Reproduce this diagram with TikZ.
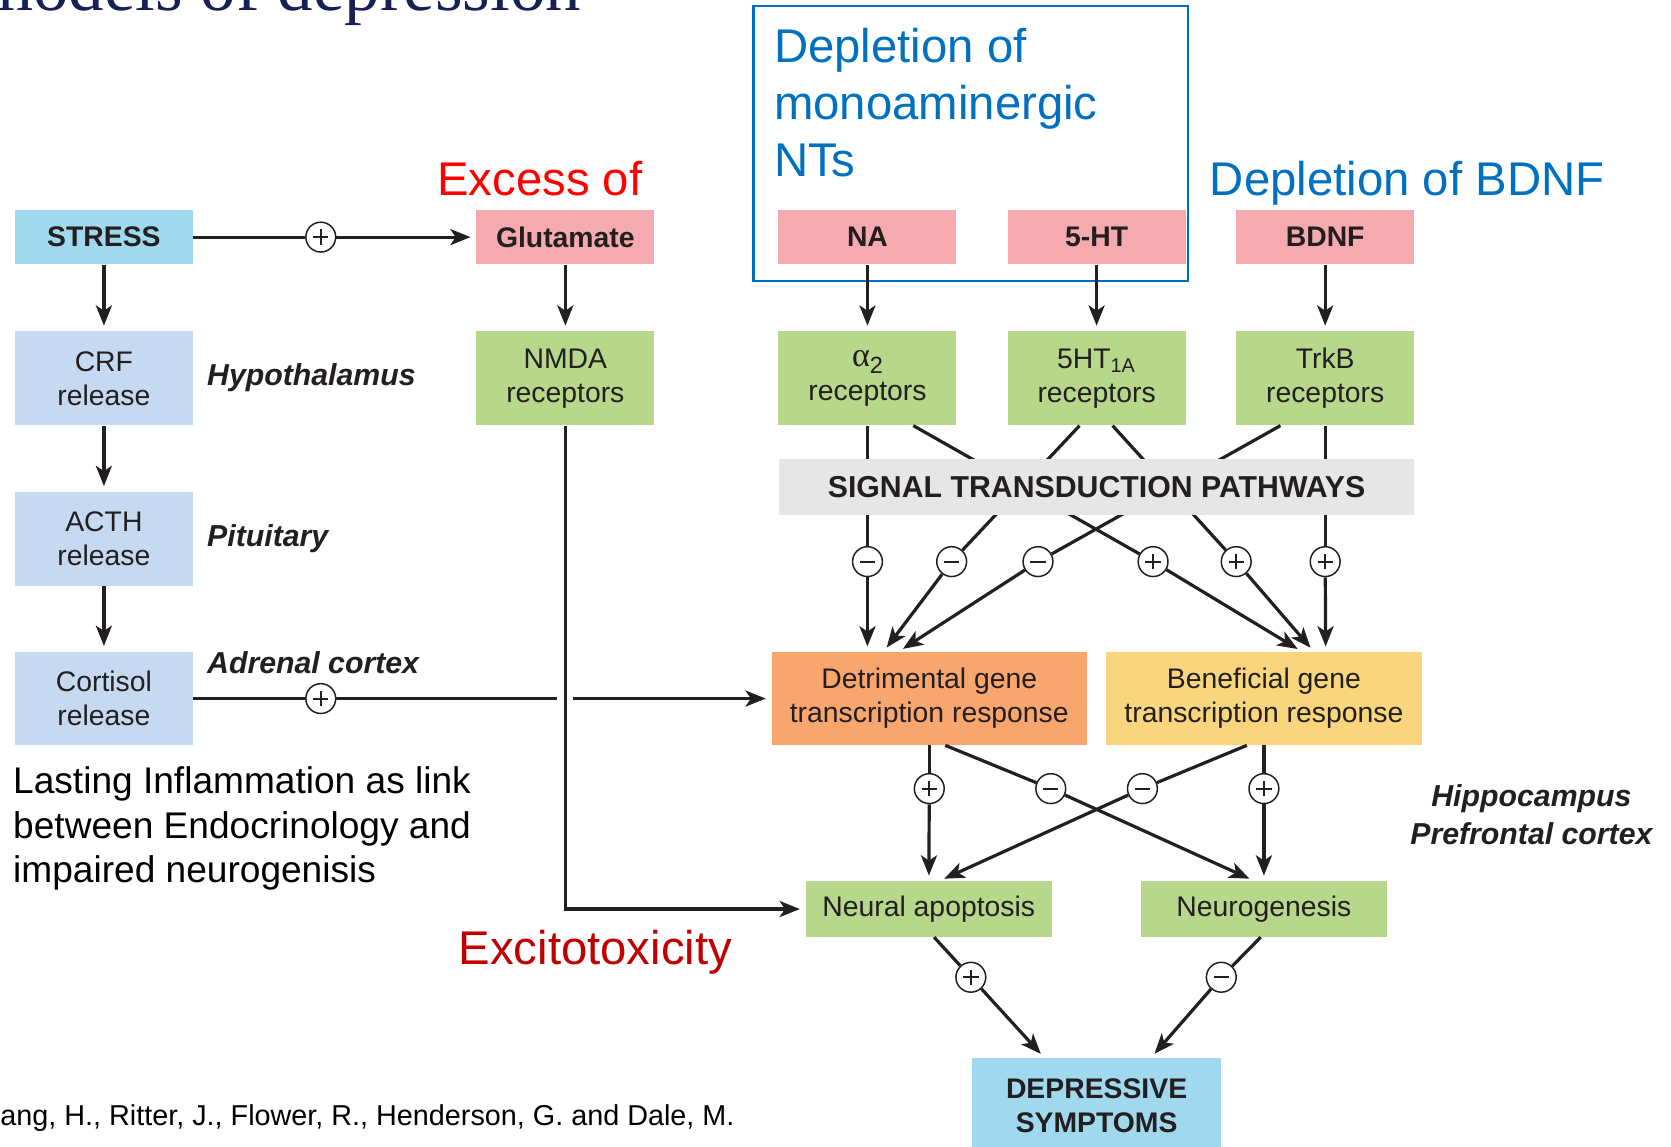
\documentclass[tikz,border=0pt]{standalone}
\usepackage{fontspec}
\setmainfont{Liberation Sans}
\newfontfamily\mytitlefont{Liberation Serif}
\usetikzlibrary{arrows.meta}
\definecolor{ink}{RGB}{35,31,32}
\definecolor{cyanbox}{RGB}{160,217,238}
\definecolor{lbluebox}{RGB}{197,217,240}
\definecolor{pinkbox}{RGB}{245,170,175}
\definecolor{greenbox}{RGB}{183,215,138}
\definecolor{graybox}{RGB}{230,230,230}
\definecolor{orangebox}{RGB}{248,166,110}
\definecolor{yellowbox}{RGB}{249,214,126}
\definecolor{myblue}{RGB}{0,112,192}
\definecolor{myred}{RGB}{255,0,0}
\definecolor{darkred}{RGB}{192,0,0}
\definecolor{navy}{RGB}{22,32,84}
\begin{document}
\begin{tikzpicture}[x=0.5pt,y=-0.5pt,
  box/.style={rectangle, inner sep=0pt, align=center, text=ink, font=\fontsize{13.3pt}{16pt}\selectfont},
  bone/.style={box, minimum width=83.5pt, minimum height=25.5pt, font=\fontsize{13.3pt}{16pt}\selectfont\bfseries},
  btwo/.style={box, minimum width=83.5pt, minimum height=44pt},
  ln/.style={line width=1.5pt, draw=ink},
  arr/.style={ln, -{Stealth[length=9.5pt,width=7.5pt,inset=2.5pt]}, shorten >=2.5pt},
  sgn/.style={circle, draw=ink, fill=white, line width=0.7pt, minimum size=14pt, inner sep=0pt},
  plus/.style={sgn, path picture={\draw[ink, line width=0.9pt]
     ([xshift=-3.6pt]path picture bounding box.center) -- ([xshift=3.6pt]path picture bounding box.center)
     ([yshift=-3.6pt]path picture bounding box.center) -- ([yshift=3.6pt]path picture bounding box.center);}},
  minus/.style={sgn, path picture={\draw[ink, line width=0.9pt]
     ([xshift=-3.6pt]path picture bounding box.center) -- ([xshift=3.6pt]path picture bounding box.center);}},
  lbl/.style={inner sep=0pt, text=ink, font=\fontsize{14.2pt}{17pt}\selectfont\bfseries\itshape},
  big/.style={inner sep=0pt, anchor=base west, font=\fontsize{22.2pt}{26.75pt}\selectfont},
  note/.style={inner sep=0pt, anchor=base west, text=black, font=\fontsize{17.4pt}{20.75pt}\selectfont}
]
\useasboundingbox (0,0) rectangle (1568,1076);
\clip (0,0) rectangle (1568,1076);
\fill[white] (0,0) rectangle (1568,1076);

% title (cut by the frame)
\node[inner sep=0pt, anchor=base west, text=navy, font=\mytitlefont\fontsize{33.3pt}{40pt}\selectfont] (title) at (-21,10) {models of depression};

% blue frame
\node[draw=myblue, line width=1pt, minimum width=204pt, minimum height=129pt, inner sep=0pt] (ntsframe) at (911,135) {};

% big labels
\node[big, text=myblue] (dep1) at (726,59) {Depletion of};
\node[big, text=myblue] (dep2) at (726,112) {monoaminergic};
\node[big, text=myblue] (dep3) at (726,166) {NTs};
\node[big, text=myblue] (depb) at (1135,183) {Depletion of BDNF};
\node[big, text=myred] (exc) at (410,183) {Excess of};
\node[big, text=darkred] (exto) at (430,905) {Excitotoxicity};

% left column
\node[bone, fill=cyanbox] (stress) at (97.5,222.5) {STRESS};
\node[btwo, fill=lbluebox] (crf) at (97.5,355) {CRF\\release};
\node[btwo, fill=lbluebox] (acth) at (97.5,505.5) {ACTH\\release};
\node[btwo, fill=lbluebox] (cort) at (97.5,655.5) {Cortisol\\release};
\node[lbl, anchor=base west] (hyp) at (194,362) {Hypothalamus};
\node[lbl, anchor=base west] (pit) at (194,513) {Pituitary};
\node[lbl, anchor=base west] (adr) at (194,632) {Adrenal cortex};

% middle column
\node[bone, fill=pinkbox] (glut) at (530.5,222.5) {Glutamate};
\node[btwo, fill=greenbox] (nmda) at (530.5,355) {NMDA\\receptors};

% right part
\node[bone, fill=pinkbox] (na) at (814,222.5) {NA};
\node[bone, fill=pinkbox] (ht) at (1029,222.5) {5-HT};
\node[bone, fill=pinkbox] (bdnf) at (1243.5,222.5) {BDNF};
\node[btwo, fill=greenbox] (alpha) at (814,355) {{\mytitlefont\fontsize{16pt}{16pt}\selectfont α}\raisebox{-3.5pt}{\fontsize{11pt}{11pt}\selectfont 2}\\receptors};
\node[btwo, fill=greenbox] (htr) at (1029,355) {5HT\textsubscript{1A}\\receptors};
\node[btwo, fill=greenbox] (trkb) at (1243.5,355) {TrkB\\receptors};
\node[box, fill=orangebox, minimum width=148pt, minimum height=43.5pt] (detr) at (872,655.5) {Detrimental gene\\transcription response};
\node[box, fill=yellowbox, minimum width=148pt, minimum height=43.5pt] (benef) at (1186,655.5) {Beneficial gene\\transcription response};
\node[box, fill=greenbox, minimum width=115.5pt, minimum height=26pt] (apop) at (871.5,853) {Neural apoptosis};
\node[box, fill=greenbox, minimum width=115.5pt, minimum height=26pt] (neuro) at (1186,853) {Neurogenesis};
\node[box, fill=cyanbox, minimum width=117pt, minimum height=44.5pt, font=\fontsize{13.3pt}{16pt}\selectfont\bfseries] (depr) at (1029,1037.5) {DEPRESSIVE\\SYMPTOMS};
\node[lbl, anchor=base] (hip) at (1437,757) {Hippocampus};
\node[lbl, anchor=base] (pfc) at (1437,792) {Prefrontal cortex};

% notes
\node[note] (n1) at (12,745) {Lasting Inflammation as link};
\node[note] (n2) at (12,787) {between Endocrinology and};
\node[note] (n3) at (12,828) {impaired neurogenisis};
\node[inner sep=0pt, anchor=base west, text=black, font=\fontsize{13.5pt}{16pt}\selectfont] (cite) at (0,1056) {ang, H., Ritter, J., Flower, R., Henderson, G. and Dale, M.};

% sign nodes
\node[plus] (sp1) at (301,222.5) {};
\node[plus] (sp2) at (301,655.5) {};
\node[minus] (sm1) at (814,527) {};
\node[minus] (sm2) at (893,527) {};
\node[minus] (sm3) at (974,527) {};
\node[plus] (sp3) at (1082,527) {};
\node[plus] (sp4) at (1160,527) {};
\node[plus] (sp5) at (1243.5,527) {};
\node[plus] (sp6) at (872,740) {};
\node[minus] (sm4) at (986,740) {};
\node[minus] (sm5) at (1072,740) {};
\node[plus] (sp7) at (1186,740) {};
\node[plus] (sp8) at (911,917) {};
\node[minus] (sm6) at (1146,917) {};
\coordinate (gapL) at (523,655.5);
\coordinate (gapR) at (538,655.5);

% left connectors
\draw[arr] (stress) -- (crf);
\draw[arr] (crf) -- (acth);
\draw[arr] (acth) -- (cort);
\draw[ln] (stress) -- (sp1);
\draw[arr] (sp1) -- (glut);
\draw[ln] (cort) -- (sp2);
\draw[ln] (sp2) -- (gapL);
\draw[arr] (gapR) -- (detr);
\draw[arr] (glut) -- (nmda);
\draw[arr] (nmda) |- (apop);

% receptors
\draw[arr] (na) -- (alpha);
\draw[arr] (ht) -- (htr);
\draw[arr] (bdnf) -- (trkb);

\draw[ln] (alpha) -- (sm1);
\draw[arr] (sm1) -- ([xshift=-29pt]detr.north);
\draw[ln] ([xshift=21.5pt]alpha.south) -- (sp3);
\draw[arr] (sp3) -- ([xshift=18pt]benef.north);
\draw[ln] ([xshift=-8pt]htr.south) -- (sm2);
\draw[arr] (sm2) -- ([xshift=-21.5pt]detr.north);
\draw[ln] ([xshift=7.5pt]htr.south) -- (sp4);
\draw[arr] (sp4) -- ([xshift=23.5pt]benef.north);
\draw[ln] ([xshift=-21pt]trkb.south) -- (sm3);
\draw[arr] (sm3) -- ([xshift=-14.5pt]detr.north);
\draw[ln] (trkb) -- (sp5);
\draw[arr] (sp5) -- ([xshift=29pt]benef.north);

% transcription responses
\draw[ln] (detr) -- (sp6);
\draw[arr] (sp6) -- (apop);
\draw[ln] ([xshift=7.5pt]detr.south) -- (sm4);
\draw[arr] (sm4) -- ([xshift=-4.5pt]neuro.north);
\draw[ln] ([xshift=-8pt]benef.south) -- (sm5);
\draw[arr] (sm5) -- ([xshift=5pt]apop.north);
\draw[ln] (benef) -- (sp7);
\draw[arr] (sp7) -- (neuro);

% to symptoms
\draw[ln] ([xshift=2.5pt]apop.south) -- (sp8);
\draw[arr] (sp8) -- ([xshift=-24.5pt]depr.north);
\draw[ln] ([xshift=-1.5pt]neuro.south) -- (sm6);
\draw[arr] (sm6) -- ([xshift=25.5pt]depr.north);

% signal transduction box on top of the crossing lines
\node[box, fill=graybox, minimum width=298pt, minimum height=26pt, font=\fontsize{14.2pt}{17pt}\selectfont\bfseries] (stp) at (1029,457) {SIGNAL TRANSDUCTION PATHWAYS};
\end{tikzpicture}
\end{document}
